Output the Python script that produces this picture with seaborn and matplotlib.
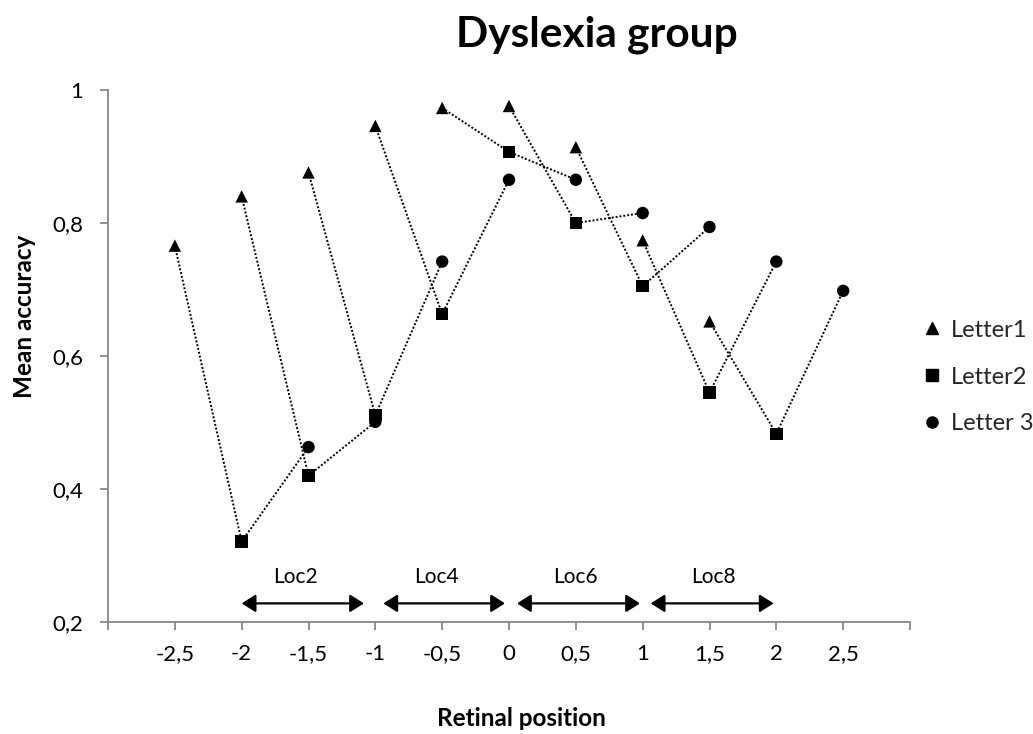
import numpy as np
import pandas as pd
import matplotlib
matplotlib.use("Agg")
import matplotlib.pyplot as plt
from matplotlib.lines import Line2D
import seaborn as sns

# Mean accuracy for each letter of the three-letter strings, per presentation location
location = ["L1", "L2", "L3", "L4", "L5", "L6", "L7", "L8", "L9"]
letter1_pos = [-2.5, -2.0, -1.5, -1.0, -0.5, 0.0, 0.5, 1.0, 1.5]
letter1_acc = [0.766, 0.840, 0.876, 0.946, 0.973, 0.976, 0.914, 0.774, 0.652]
letter2_pos = [-2.0, -1.5, -1.0, -0.5, 0.0, 0.5, 1.0, 1.5, 2.0]
letter2_acc = [0.321, 0.420, 0.511, 0.663, 0.907, 0.800, 0.705, 0.545, 0.483]
letter3_pos = [-1.5, -1.0, -0.5, 0.0, 0.5, 1.0, 1.5, 2.0, 2.5]
letter3_acc = [0.463, 0.501, 0.742, 0.865, 0.865, 0.815, 0.794, 0.742, 0.698]
letter_names = ["Letter1", "Letter2", "Letter 3"]

x_ticks = [-3.0, -2.5, -2.0, -1.5, -1.0, -0.5, 0.0, 0.5, 1.0, 1.5, 2.0, 2.5, 3.0]
x_ticklabels = ["", "-2,5", "-2", "-1,5", "-1", "-0,5", "0", "0,5", "1", "1,5", "2", "2,5", ""]
y_ticks = [0.2, 0.4, 0.6, 0.8, 1.0]
y_ticklabels = ["0,2", "0,4", "0,6", "0,8", "1"]

# Bracketed location spans shown along the bottom of the plot
span_names = ["Loc2", "Loc4", "Loc6", "Loc8"]
span_start = [-2.0, -0.94, 0.06, 1.06]
span_end = [-1.085, -0.03, 0.98, 1.98]
span_label_x = [-1.6, -0.54, 0.5, 1.53]

frames = []
for name, pos, acc in zip(letter_names,
                          [letter1_pos, letter2_pos, letter3_pos],
                          [letter1_acc, letter2_acc, letter3_acc]):
    frames.append(pd.DataFrame({"location": location, "letter": name,
                                "position": pos, "accuracy": acc}))
df = pd.concat(frames, ignore_index=True)

sns.set_theme(style="white")
plt.rcParams["font.family"] = ["Lato", "DejaVu Sans"]

fig = plt.figure(figsize=(10.33, 7.34), dpi=100)
ax = fig.add_axes([108 / 1033, 1 - 622 / 734, (910 - 108) / 1033, (622 - 90) / 734])

markers = {"Letter1": "^", "Letter2": "s", "Letter 3": "o"}

sns.lineplot(data=df, x="position", y="accuracy", units="location", estimator=None,
             color="black", linestyle=(0, (1, 1)), linewidth=1.4, legend=False, ax=ax)
sns.scatterplot(data=df, x="position", y="accuracy", style="letter", markers=markers,
                color="black", edgecolor="black", s=80, linewidth=0, legend=False, ax=ax, zorder=3)

ax.set_xlim(-3, 3)
ax.set_ylim(0.2, 1.0)
ax.set_xticks(x_ticks)
ax.set_xticklabels(x_ticklabels)
ax.set_yticks(y_ticks)
ax.set_yticklabels(y_ticklabels)

axis_grey = "#878787"
for side in ["top", "right"]:
    ax.spines[side].set_visible(False)
for side in ["left", "bottom"]:
    ax.spines[side].set_color(axis_grey)
    ax.spines[side].set_linewidth(1.3)
ax.tick_params(axis="x", direction="out", length=6, width=1.3, color=axis_grey,
               labelsize=16, pad=10, bottom=True)
ax.tick_params(axis="y", direction="out", length=6, width=1.3, color=axis_grey,
               labelsize=16, pad=12, left=True)
for lab in ax.get_xticklabels() + ax.get_yticklabels():
    lab.set_color("black")

ax.set_xlabel("Retinal position", fontsize=17.5, fontweight="bold", color="black")
ax.set_ylabel("Mean accuracy", fontsize=17.5, fontweight="bold", color="black")
ax.xaxis.set_label_coords((521 - 108) / 802, -(719 - 622) / 532)
ax.xaxis.label.set_va("center")
ax.yaxis.set_label_coords((25 - 108) / 802, (622 - 316) / 532)
ax.yaxis.label.set_va("center")

fig.text(597 / 1033, 1 - 35 / 734, "Dyslexia group", fontsize=30.5, fontweight="bold",
         ha="center", va="center", color="black")

# Location brackets with double-headed arrows
for name, x0, x1, xl in zip(span_names, span_start, span_end, span_label_x):
    ax.annotate("", xy=(x0, 0.228), xytext=(x1, 0.228),
                arrowprops=dict(arrowstyle="<|-|>,head_length=0.6,head_width=0.38",
                                mutation_scale=14, color="black", lw=1.6,
                                shrinkA=0, shrinkB=0))
    ax.text(xl, 0.267, name, fontsize=15, ha="center", va="center", color="black")

handles = [Line2D([], [], linestyle="none", marker=markers[n], color="black",
                  markersize=8 if n != "Letter1" else 8.5) for n in letter_names]
ax.legend(handles, letter_names, loc="center left", bbox_to_anchor=(913 / 1033, 1 - 377 / 734),
          bbox_transform=fig.transFigure, frameon=False, fontsize=17,
          handlelength=0.8, handletextpad=0.4, labelspacing=1.1, borderaxespad=0)

fig.savefig("out.png", dpi=100, facecolor="white")
